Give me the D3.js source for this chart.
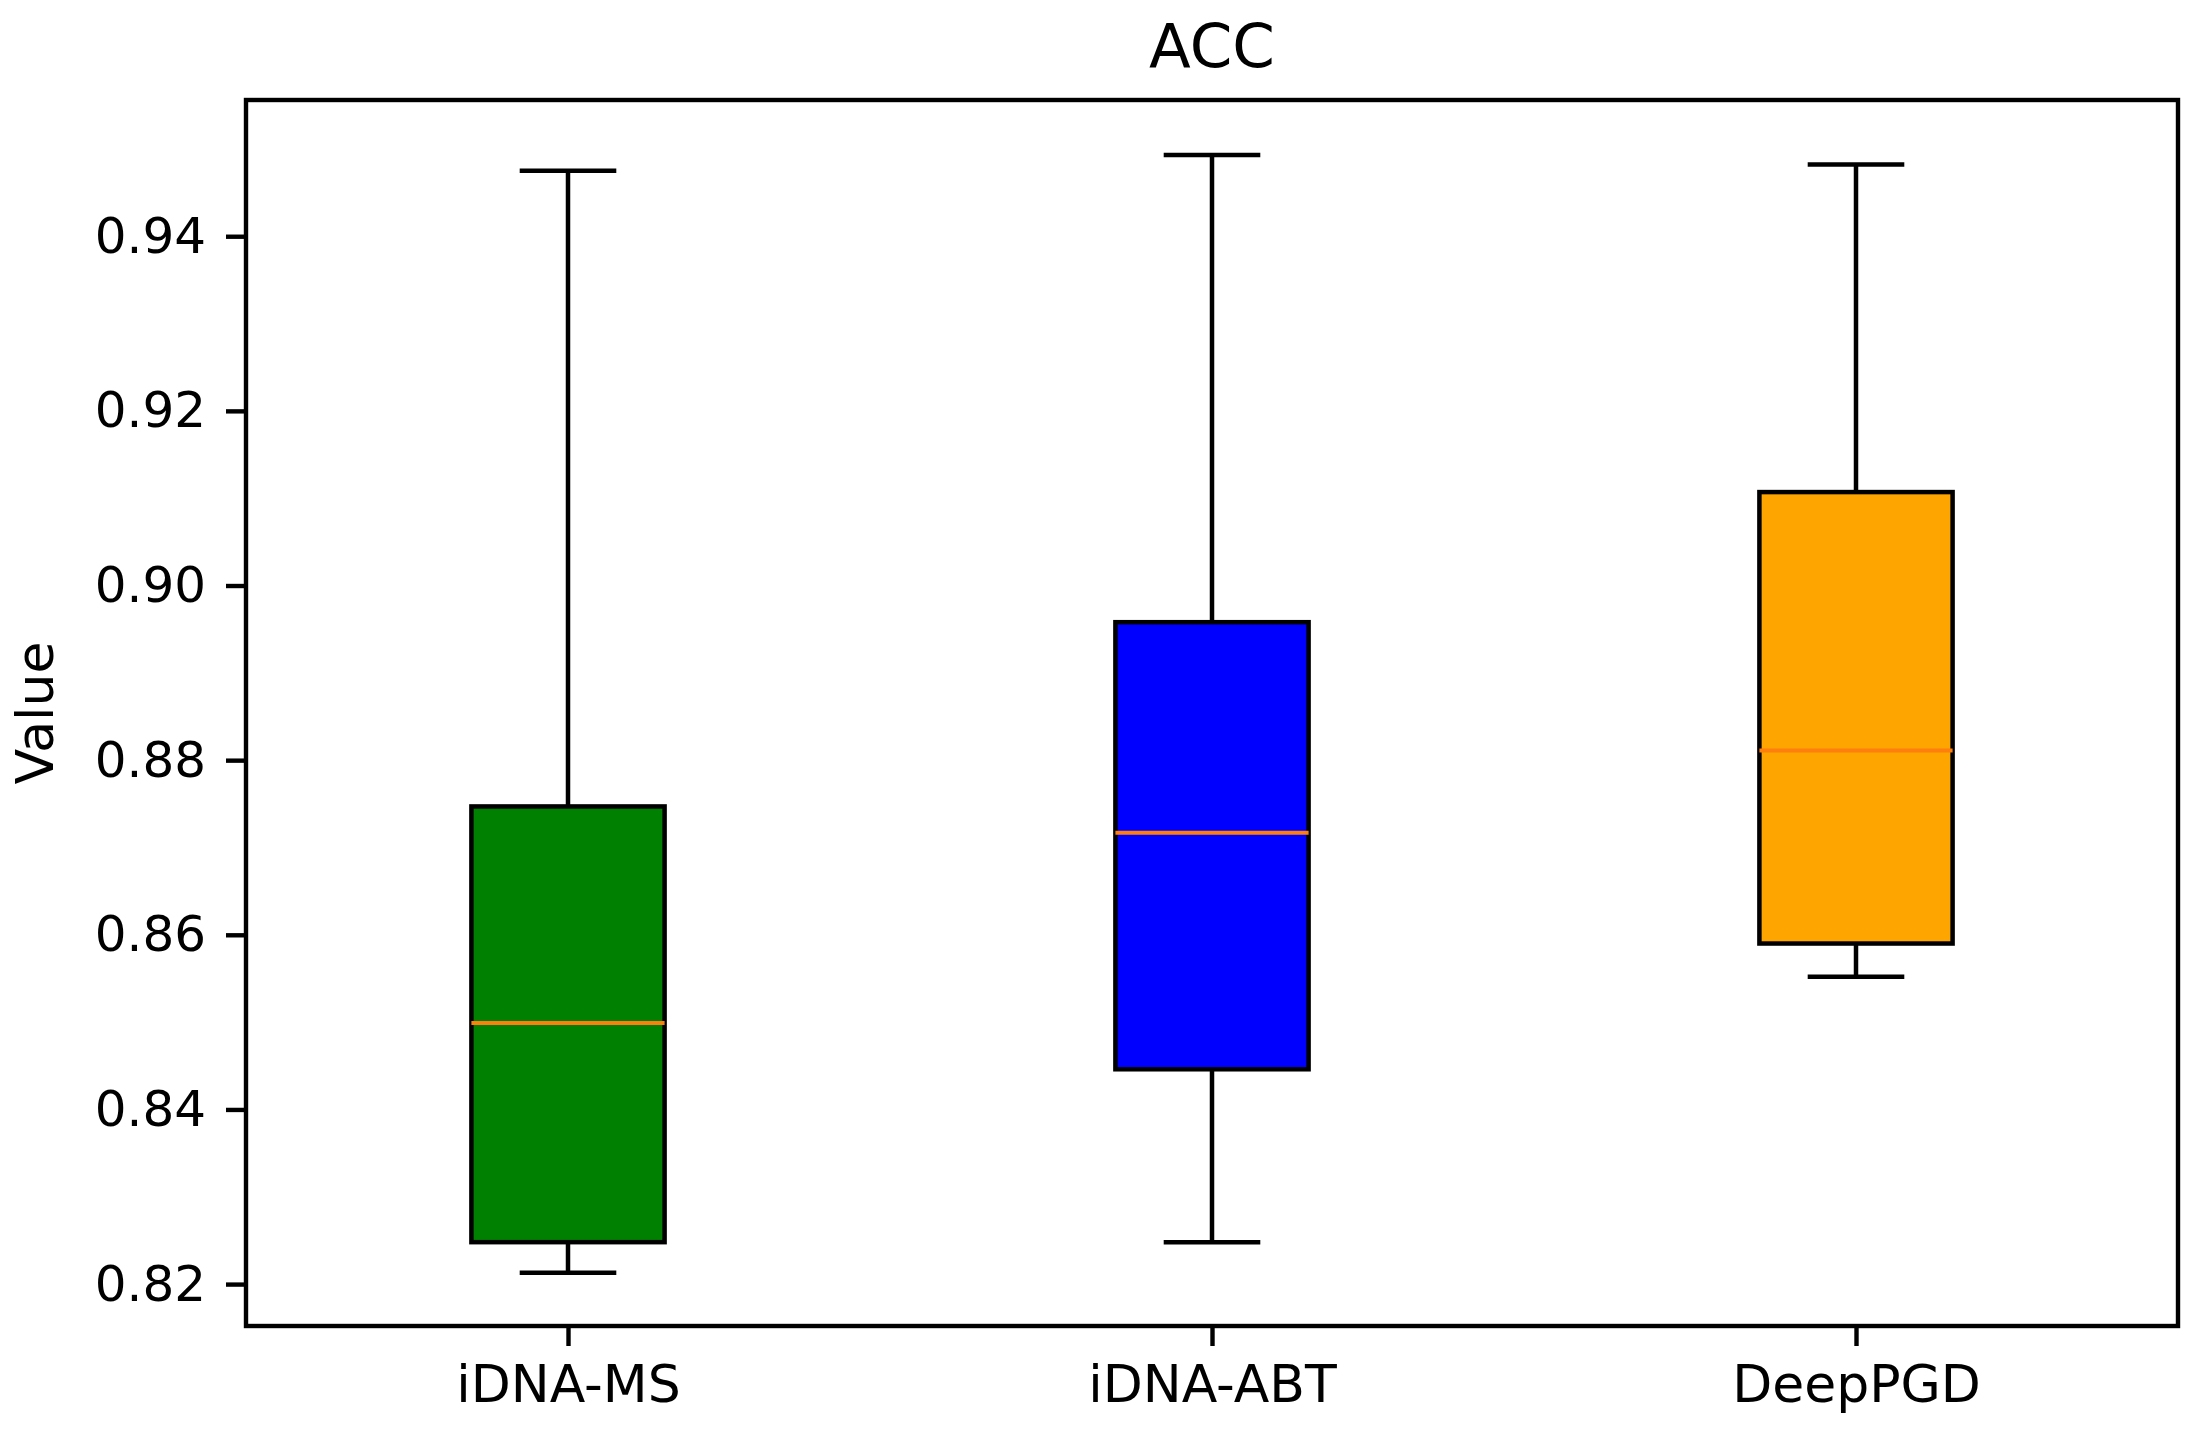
<!DOCTYPE html>
<html>
<head>
<meta charset="utf-8">
<script src="https://cdn.jsdelivr.net/npm/d3@7/dist/d3.min.js"></script>
<style>
  body { margin: 0; background: #fff; }
  text { font-family: "DejaVu Sans", sans-serif; fill: #000; }
</style>
</head>
<body>
<div id="canvas"></div>
<script>
var width = 2189, height = 1430;

var categories = ["iDNA-MS", "iDNA-ABT", "DeepPGD"];
var whisker_low = [0.8213, 0.8248, 0.8552];
var q1 = [0.8248, 0.8446, 0.8590];
var medians = [0.8499, 0.8717, 0.8811];
var q3 = [0.8747, 0.8958, 0.9107];
var whisker_high = [0.9475, 0.9493, 0.9482];
var box_colors = ["#008000", "#0000ff", "#ffa500"];
var y_ticks = [0.82, 0.84, 0.86, 0.88, 0.90, 0.92, 0.94];

var margin = {top: 100, right: 11, bottom: 104, left: 246};
var inner_w = width - margin.left - margin.right,
    inner_h = height - margin.top - margin.bottom;

var svg = d3.select("#canvas").append("svg")
    .attr("width", width).attr("height", height);

var g = svg.append("g").attr("transform", "translate(" + margin.left + "," + margin.top + ")");

// matplotlib style: positions 1..3, xlim 0.5..3.5, box width 0.3
var x = d3.scaleLinear().domain([0.5, 3.5]).range([0, inner_w]);
var y = d3.scaleLinear().domain([0.8152, 0.9556]).range([inner_h, 0]);

var data = categories.map(function(c, i){
    return {
        name: c, pos: i + 1,
        lo: whisker_low[i], q1: q1[i], med: medians[i], q3: q3[i], hi: whisker_high[i],
        color: box_colors[i]
    };
});

var box_w = 0.3, cap_w = 0.15;

var boxes = g.selectAll("g.box").data(data).enter().append("g").attr("class", "box");

// whiskers
boxes.append("line")
    .attr("x1", function(d){ return x(d.pos); }).attr("x2", function(d){ return x(d.pos); })
    .attr("y1", function(d){ return y(d.q3); }).attr("y2", function(d){ return y(d.hi); })
    .attr("stroke", "#000").attr("stroke-width", 4.5);
boxes.append("line")
    .attr("x1", function(d){ return x(d.pos); }).attr("x2", function(d){ return x(d.pos); })
    .attr("y1", function(d){ return y(d.q1); }).attr("y2", function(d){ return y(d.lo); })
    .attr("stroke", "#000").attr("stroke-width", 4.5);

// caps
["hi", "lo"].forEach(function(k){
    boxes.append("line")
        .attr("x1", function(d){ return x(d.pos - cap_w / 2); })
        .attr("x2", function(d){ return x(d.pos + cap_w / 2); })
        .attr("y1", function(d){ return y(d[k]); })
        .attr("y2", function(d){ return y(d[k]); })
        .attr("stroke", "#000").attr("stroke-width", 4.5);
});

// boxes
boxes.append("rect")
    .attr("x", function(d){ return x(d.pos - box_w / 2); })
    .attr("width", function(d){ return x(d.pos + box_w / 2) - x(d.pos - box_w / 2); })
    .attr("y", function(d){ return y(d.q3); })
    .attr("height", function(d){ return y(d.q1) - y(d.q3); })
    .attr("fill", function(d){ return d.color; })
    .attr("stroke", "#000").attr("stroke-width", 4.5);

// medians
boxes.append("line")
    .attr("x1", function(d){ return x(d.pos - box_w / 2); })
    .attr("x2", function(d){ return x(d.pos + box_w / 2); })
    .attr("y1", function(d){ return y(d.med); })
    .attr("y2", function(d){ return y(d.med); })
    .attr("stroke", "#ff7f0e").attr("stroke-width", 4);

// axes
var y_axis = g.append("g")
    .call(d3.axisLeft(y).tickValues(y_ticks).tickSize(20).tickPadding(20).tickFormat(d3.format(".2f")));
var x_axis = g.append("g").attr("transform", "translate(0," + inner_h + ")")
    .call(d3.axisBottom(x).tickValues(data.map(function(d){ return d.pos; }))
        .tickSize(20).tickPadding(19)
        .tickFormat(function(p){ return categories[p - 1]; }));

[y_axis, x_axis].forEach(function(a){
    a.select(".domain").remove();
    a.selectAll(".tick line").attr("stroke", "#000").attr("stroke-width", 4.4);
    a.selectAll(".tick text").attr("font-family", "DejaVu Sans").attr("fill", "#000");
});
y_axis.selectAll(".tick text").attr("font-size", 50);
x_axis.selectAll(".tick text").attr("font-size", 52);

// frame
g.append("rect")
    .attr("x", 0).attr("y", 0).attr("width", inner_w).attr("height", inner_h)
    .attr("fill", "none").attr("stroke", "#000").attr("stroke-width", 4.4);

// title
svg.append("text")
    .attr("x", margin.left + inner_w / 2).attr("y", 67)
    .attr("text-anchor", "middle").attr("font-size", 61)
    .text("ACC");

// y label
svg.append("text")
    .attr("transform", "translate(53," + (margin.top + inner_h / 2) + ") rotate(-90)")
    .attr("text-anchor", "middle").attr("font-size", 52)
    .text("Value");
</script>
</body>
</html>
